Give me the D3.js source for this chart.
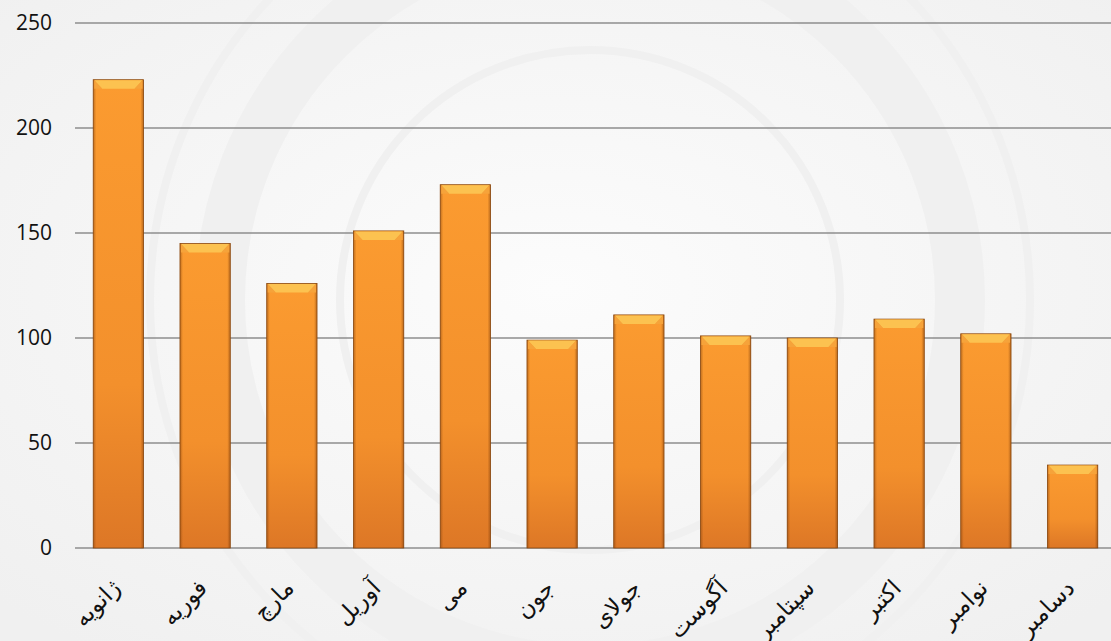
<!DOCTYPE html>
<html>
<head>
<meta charset="utf-8">
<script src="https://cdn.jsdelivr.net/npm/d3@7"></script>
<style>
  body { margin: 0; background: #fff; }
  svg { display: block; }
</style>
</head>
<body>
<script>
// chart data
const months = ["ژانویه", "فوریه", "مارچ", "آوریل", "می", "جون", "جولای", "آگوست", "سپتامبر", "اکتبر", "نوامبر", "دسامبر"];
const counts = [223, 145, 126, 151, 173, 99, 111, 101, 100, 109, 102, 39.5];
const yTicks = [0, 50, 100, 150, 200, 250];

const width = 1111, height = 641,
      plotLeft = 75, plotRight = 1116, plotTop = 23, plotBottom = 548;

const svg = d3.select("body").append("svg")
              .attr("width", width)
              .attr("height", height);

const defs = svg.append("defs");

// background, faint watermark feel
const bg = defs.append("radialGradient").attr("id", "bg").attr("cx", "50%").attr("cy", "45%").attr("r", "70%");
bg.append("stop").attr("offset", "0%").attr("stop-color", "#fcfcfc");
bg.append("stop").attr("offset", "100%").attr("stop-color", "#f0f0f0");
svg.append("rect").attr("width", width).attr("height", height).attr("fill", "url(#bg)");

const wm = svg.append("g").attr("fill", "none").attr("stroke", "#f0f0f0");
[440, 370, 250].forEach(r => {
	wm.append("circle").attr("cx", 590).attr("cy", 300).attr("r", r).attr("stroke-width", r === 370 ? 50 : 8);
});

// bar gradients
const vg = defs.append("linearGradient").attr("id", "barV").attr("x1", 0).attr("y1", 0).attr("x2", 0).attr("y2", 1);
vg.append("stop").attr("offset", "0%").attr("stop-color", "#fb9b30");
vg.append("stop").attr("offset", "65%").attr("stop-color", "#f3902c");
vg.append("stop").attr("offset", "100%").attr("stop-color", "#dd7726");

const hg = defs.append("linearGradient").attr("id", "barH").attr("x1", 0).attr("y1", 0).attr("x2", 1).attr("y2", 0);
hg.append("stop").attr("offset", "0%").attr("stop-color", "#7a3a08").attr("stop-opacity", 0.45);
hg.append("stop").attr("offset", "6%").attr("stop-color", "#7a3a08").attr("stop-opacity", 0);
hg.append("stop").attr("offset", "94%").attr("stop-color", "#7a3a08").attr("stop-opacity", 0);
hg.append("stop").attr("offset", "100%").attr("stop-color", "#7a3a08").attr("stop-opacity", 0.5);

// scales
const xScale = d3.scaleBand()
                 .domain(months)
                 .range([plotLeft, plotRight])
                 .paddingInner(0.42)
                 .paddingOuter(0.21),
      yScale = d3.scaleLinear()
                 .domain([0, 250])
                 .range([plotBottom, plotTop]);

// gridlines
svg.append("g")
   .selectAll("line")
   .data(yTicks)
   .enter()
   .append("line")
   .attr("x1", plotLeft)
   .attr("x2", width)
   .attr("y1", d => yScale(d))
   .attr("y2", d => yScale(d))
   .attr("stroke", "#8e8e8e")
   .attr("stroke-width", 1.5);

// y axis labels
const yAxis = svg.append("g")
                 .attr("transform", `translate(${plotLeft - 23},0)`)
                 .call(d3.axisLeft(yScale).tickValues(yTicks).tickSize(0).tickPadding(0));
yAxis.select(".domain").remove();
yAxis.selectAll("text")
     .attr("font-family", "'Open Sans', 'Liberation Sans', sans-serif")
     .attr("font-size", 21)
     .attr("fill", "#111");

// bars
const bw = xScale.bandwidth();
const bars = svg.append("g")
                .selectAll("g")
                .data(months.map((m, i) => [m, counts[i]]))
                .enter()
                .append("g")
                .attr("transform", d => `translate(${xScale(d[0])},0)`);

bars.append("rect")
    .attr("y", d => yScale(d[1]))
    .attr("width", bw)
    .attr("height", d => yScale(0) - yScale(d[1]))
    .attr("fill", "url(#barV)")
    .attr("stroke", "#8a4a12")
    .attr("stroke-width", 0.8);

bars.append("rect")
    .attr("y", d => yScale(d[1]))
    .attr("width", bw)
    .attr("height", d => yScale(0) - yScale(d[1]))
    .attr("fill", "url(#barH)");

// top bevel
bars.append("path")
    .attr("d", d => {
    	const y = yScale(d[1]);
    	return `M1,${y + 0.5} L${bw - 1},${y + 0.5} L${bw - 9},${y + 9} L9,${y + 9} Z`;
    })
    .attr("fill", "#fcc250");

bars.append("path")
    .attr("d", d => {
    	const y = yScale(d[1]);
    	return `M1,${y + 0.5} L9,${y + 9} L1,${y + 9} Z M${bw - 1},${y + 0.5} L${bw - 9},${y + 9} L${bw - 1},${y + 9} Z`;
    })
    .attr("fill", "#f6a33a");

// month labels
svg.append("g")
   .selectAll("text")
   .data(months)
   .enter()
   .append("text")
   .attr("transform", d => `translate(${xScale(d) + bw / 2 - 8},${plotBottom + 30}) rotate(-45)`)
   .attr("text-anchor", "end")
   .attr("dy", "0.7em")
   .attr("font-family", "'DejaVu Sans', sans-serif")
   .attr("font-size", 23)
   .attr("fill", "#111")
   .text(d => d);
</script>
</body>
</html>
